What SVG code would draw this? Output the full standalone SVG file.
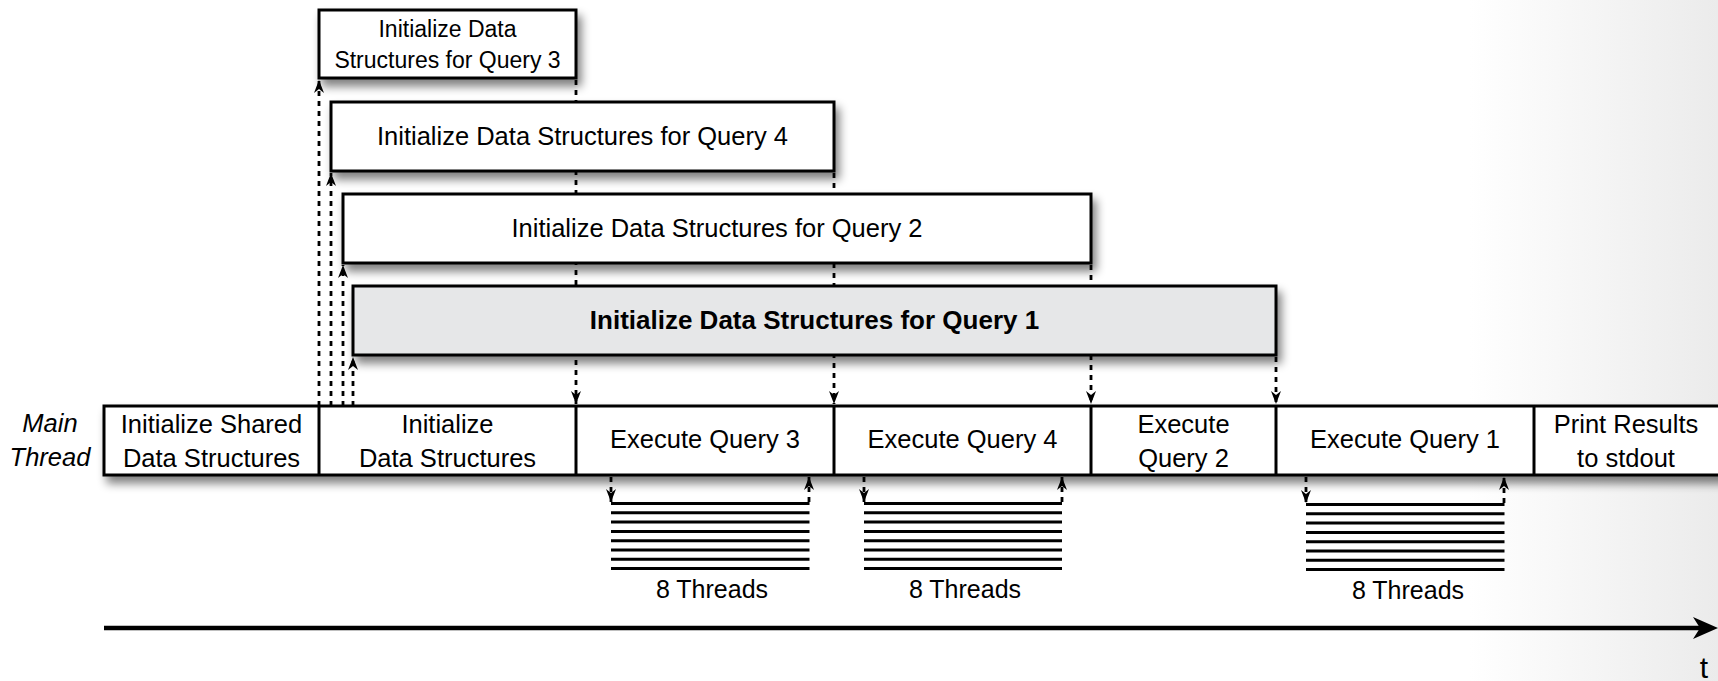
<svg xmlns="http://www.w3.org/2000/svg" width="1718" height="681" viewBox="0 0 1718 681">
<defs>
<style>
.box{fill:#fff;stroke:#000;stroke-width:3}
.q1{fill:#e6e7e8}
.t{font-family:"Liberation Sans",Arial,sans-serif;font-size:25.5px;fill:#000;text-anchor:middle}
.sm{font-size:23px}
.b{font-weight:bold;font-size:26px}
.i{font-style:italic}
.dash{stroke:#000;stroke-width:2.8;stroke-dasharray:5 5;fill:none}
.thr{stroke:#000;stroke-width:3}
.div{stroke:#000;stroke-width:3}
</style>
<linearGradient id="bg" gradientUnits="userSpaceOnUse" x1="1470" y1="0" x2="1718" y2="0">
<stop offset="0" stop-color="#ffffff"/>
<stop offset="1" stop-color="#ebebeb"/>
</linearGradient>
<filter id="sh" x="-5%" y="-30%" width="115%" height="180%">
<feGaussianBlur in="SourceAlpha" stdDeviation="5"/>
<feOffset dx="4" dy="7" result="o"/>
<feComponentTransfer><feFuncA type="linear" slope="0.5"/></feComponentTransfer>
<feMerge><feMergeNode/><feMergeNode in="SourceGraphic"/></feMerge>
</filter>
<marker id="ah" viewBox="-14 -6 15 12" refX="0" refY="0" markerWidth="15" markerHeight="12" markerUnits="userSpaceOnUse" orient="auto">
<path d="M0,0 L-13,-5 L-9,0 L-13,5 Z" fill="#000"/>
</marker>
</defs>
<rect x="0" y="0" width="1718" height="681" fill="url(#bg)"/>

<g id="connectors">
<line class="dash" x1="319" y1="406" x2="319" y2="80" marker-end="url(#ah)"/>
<line class="dash" x1="331" y1="406" x2="331" y2="173" marker-end="url(#ah)"/>
<line class="dash" x1="343" y1="406" x2="343" y2="265" marker-end="url(#ah)"/>
<line class="dash" x1="353" y1="406" x2="353" y2="357" marker-end="url(#ah)"/>
<line class="dash" x1="576" y1="80" x2="576" y2="404" marker-end="url(#ah)"/>
<line class="dash" x1="834" y1="173" x2="834" y2="404" marker-end="url(#ah)"/>
<line class="dash" x1="1091" y1="265" x2="1091" y2="404" marker-end="url(#ah)"/>
<line class="dash" x1="1276" y1="357" x2="1276" y2="404" marker-end="url(#ah)"/>
<line class="dash" x1="611" y1="477" x2="611" y2="502" marker-end="url(#ah)"/>
<line class="dash" x1="809" y1="502" x2="809" y2="477" marker-end="url(#ah)"/>
<line class="dash" x1="864" y1="477" x2="864" y2="502" marker-end="url(#ah)"/>
<line class="dash" x1="1062" y1="502" x2="1062" y2="477" marker-end="url(#ah)"/>
<line class="dash" x1="1306" y1="477" x2="1306" y2="503" marker-end="url(#ah)"/>
<line class="dash" x1="1504" y1="503" x2="1504" y2="477" marker-end="url(#ah)"/>
</g>

<g id="init-q3">
<rect class="box" x="319" y="10" width="257" height="68" filter="url(#sh)"/>
<text class="t sm" x="447.5" y="37">Initialize Data</text>
<text class="t sm" x="447.5" y="68">Structures for Query 3</text>
</g>
<g id="init-q4">
<rect class="box" x="331" y="102" width="503" height="69" filter="url(#sh)"/>
<text class="t" x="582.5" y="145">Initialize Data Structures for Query 4</text>
</g>
<g id="init-q2">
<rect class="box" x="343" y="194" width="748" height="69" filter="url(#sh)"/>
<text class="t" x="717" y="237">Initialize Data Structures for Query 2</text>
</g>
<g id="init-q1">
<rect class="box q1" x="353" y="286" width="923" height="69" filter="url(#sh)"/>
<text class="t b" x="814.5" y="329">Initialize Data Structures for Query 1</text>
</g>

<g id="main-thread-label">
<text class="t i" x="50" y="432">Main</text>
<text class="t i" x="50" y="466">Thread</text>
</g>

<g id="main-row">
<rect class="box" x="104" y="406" width="1640" height="69" filter="url(#sh)"/>
<line class="div" x1="319" y1="406" x2="319" y2="475"/>
<line class="div" x1="576" y1="406" x2="576" y2="475"/>
<line class="div" x1="834" y1="406" x2="834" y2="475"/>
<line class="div" x1="1091" y1="406" x2="1091" y2="475"/>
<line class="div" x1="1276" y1="406" x2="1276" y2="475"/>
<line class="div" x1="1534" y1="406" x2="1534" y2="475"/>
</g>
<g id="cell-shared"><text class="t" x="211.5" y="433">Initialize Shared</text><text class="t" x="211.5" y="467">Data Structures</text></g>
<g id="cell-init"><text class="t" x="447.5" y="433">Initialize</text><text class="t" x="447.5" y="467">Data Structures</text></g>
<g id="cell-exec3"><text class="t" x="705" y="448">Execute Query 3</text></g>
<g id="cell-exec4"><text class="t" x="962.5" y="448">Execute Query 4</text></g>
<g id="cell-exec2"><text class="t" x="1183.5" y="433">Execute</text><text class="t" x="1183.5" y="467">Query 2</text></g>
<g id="cell-exec1"><text class="t" x="1405" y="448">Execute Query 1</text></g>
<g id="cell-print"><text class="t" x="1626" y="433">Print Results</text><text class="t" x="1626" y="467">to stdout</text></g>

<g id="threads-q3">
<path class="thr" d="M611,503.5H809.5M611,512.8H809.5M611,522.1H809.5M611,531.4H809.5M611,540.7H809.5M611,550H809.5M611,559.3H809.5M611,568.6H809.5"/>
<text class="t" x="712" y="598" style="font-size:25px">8 Threads</text>
</g>
<g id="threads-q4">
<path class="thr" d="M864,503.5H1062M864,512.8H1062M864,522.1H1062M864,531.4H1062M864,540.7H1062M864,550H1062M864,559.3H1062M864,568.6H1062"/>
<text class="t" x="965" y="598" style="font-size:25px">8 Threads</text>
</g>
<g id="threads-q1">
<path class="thr" d="M1306,504.5H1504.5M1306,513.8H1504.5M1306,523.1H1504.5M1306,532.4H1504.5M1306,541.7H1504.5M1306,551H1504.5M1306,560.3H1504.5M1306,569.6H1504.5"/>
<text class="t" x="1408" y="599" style="font-size:25px">8 Threads</text>
</g>

<g id="time-axis">
<line x1="104" y1="628" x2="1702" y2="628" stroke="#000" stroke-width="4.5"/>
<path d="M1718,628 L1693,617 L1700,628 L1693,639 Z" fill="#000"/>
<text class="t" x="1704" y="678" style="font-size:30px">t</text>
</g>
</svg>
